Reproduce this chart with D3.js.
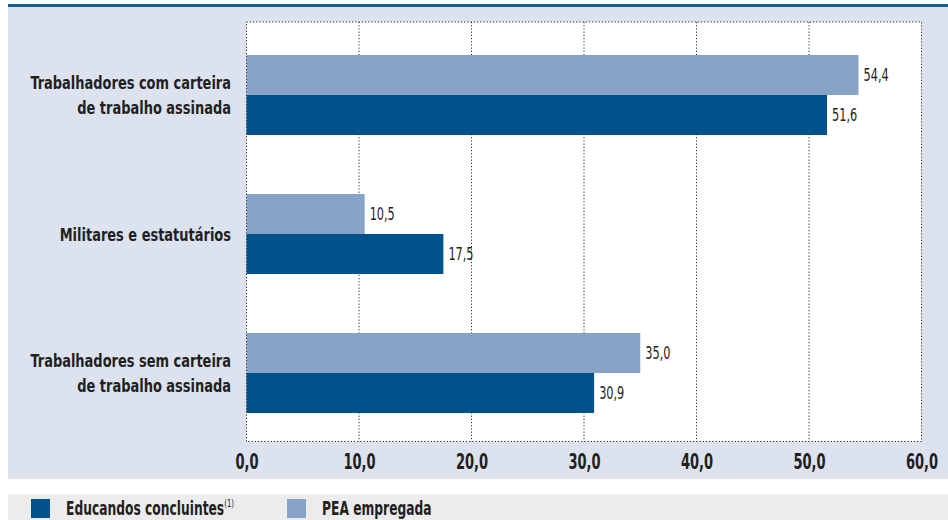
<!DOCTYPE html>
<html>
<head>
<meta charset="utf-8">
<script src="https://cdn.jsdelivr.net/npm/d3@7"></script>
<style>
  html, body { margin: 0; padding: 0; background: #ffffff; }
  svg { display: block; }
  text { font-family: "DejaVu Sans Condensed", "Liberation Sans Narrow", sans-serif; fill: #231f20; }
</style>
</head>
<body>
<svg id="chart" width="948" height="520"></svg>
<script>
// Categories (top to bottom) and their label lines
const categories = [
  "Trabalhadores com carteira de trabalho assinada",
  "Militares e estatutários",
  "Trabalhadores sem carteira de trabalho assinada"
];
const categoryLines = [
  ["Trabalhadores com carteira", "de trabalho assinada"],
  ["Militares e estatutários"],
  ["Trabalhadores sem carteira", "de trabalho assinada"]
];

// Series values (%)
const seriesNames = ["PEA empregada", "Educandos concluintes"];
const peaEmpregada = [54.4, 10.5, 35.0];
const educandosConcluintes = [51.6, 17.5, 30.9];

// Axis ticks
const xTicks = [0, 10, 20, 30, 40, 50, 60];

const colors = { "PEA empregada": "#87a3c6", "Educandos concluintes": "#00538a" };
const fmt = v => d3.format(".1f")(v).replace(".", ",");

// Horizontal squeeze factors to emulate a narrow display face
const squeeze = { category: 0.78, value: 0.74, tick: 0.66, legend: 0.7 };

const svg = d3.select("#chart");

// Panel background and top rule
svg.append("rect").attr("x", 8).attr("y", 5).attr("width", 940).attr("height", 474).attr("fill", "#dce3ee");
svg.append("rect").attr("x", 8).attr("y", 4).attr("width", 940).attr("height", 3).attr("fill", "#1b5a8c");

// Legend band
svg.append("rect").attr("x", 8).attr("y", 494).attr("width", 940).attr("height", 26).attr("fill", "#ececec");

const plot = { left: 246.5, right: 921.5, top: 22, bottom: 441.5 };

const x = d3.scaleLinear().domain([0, 60]).range([plot.left, plot.right]);
const y = d3.scaleBand().domain(categories).range([25.5, 442.5]).paddingInner(0.4245).paddingOuter(0.2123);
const ySub = d3.scaleBand().domain(seriesNames).range([0, y.bandwidth()]);

// Plot area
svg.append("rect")
  .attr("x", plot.left).attr("y", plot.top)
  .attr("width", plot.right - plot.left).attr("height", plot.bottom - plot.top)
  .attr("fill", "#ffffff");

// Dotted vertical gridlines
svg.append("g").selectAll("line").data(xTicks.slice(1, -1)).join("line")
  .attr("x1", d => x(d)).attr("x2", d => x(d))
  .attr("y1", plot.top).attr("y2", plot.bottom)
  .attr("stroke", "#2a2a2a").attr("stroke-width", 1).attr("stroke-dasharray", "1.2,2");

// Bars
const rows = categories.map((c, i) => ({
  cat: c,
  values: [
    { series: "PEA empregada", value: peaEmpregada[i] },
    { series: "Educandos concluintes", value: educandosConcluintes[i] }
  ]
}));

const groups = svg.append("g").selectAll("g").data(rows).join("g")
  .attr("transform", d => `translate(0,${y(d.cat)})`);

groups.selectAll("rect").data(d => d.values).join("rect")
  .attr("x", x(0))
  .attr("y", d => ySub(d.series))
  .attr("width", d => x(d.value) - x(0))
  .attr("height", ySub.bandwidth())
  .attr("fill", d => colors[d.series]);

// Value labels at bar ends
groups.selectAll("g.val").data(d => d.values).join("g")
  .attr("class", "val")
  .attr("transform", d => `translate(${x(d.value) + 5},${ySub(d.series) + ySub.bandwidth() / 2}) scale(${squeeze.value},1)`)
  .append("text")
  .attr("dy", "0.36em")
  .attr("font-size", 17)
  .text(d => fmt(d.value));

// Dotted plot border
svg.append("rect")
  .attr("x", plot.left).attr("y", plot.top)
  .attr("width", plot.right - plot.left).attr("height", plot.bottom - plot.top)
  .attr("fill", "none").attr("stroke", "#2a2a2a").attr("stroke-width", 1).attr("stroke-dasharray", "1.2,2");

// X axis tick labels
const xAxis = d3.axisBottom(x).tickValues(xTicks).tickSize(0).tickPadding(12).tickFormat(fmt);
const gx = svg.append("g").attr("transform", `translate(0,${plot.bottom})`).call(xAxis);
gx.select(".domain").remove();
gx.selectAll("text")
  .attr("font-size", 22).attr("font-weight", "bold")
  .attr("transform", `scale(${squeeze.tick},1)`)
  .style("font-family", "'DejaVu Sans Condensed', sans-serif")
  .attr("fill", "#231f20");

// Category labels, right-aligned beside the plot
const catG = svg.append("g").selectAll("g").data(categories).join("g")
  .attr("transform", d => `translate(231,${y(d) + y.bandwidth() / 2}) scale(${squeeze.category},1)`);
catG.each(function(d, i) {
  const lines = categoryLines[i];
  const n = lines.length;
  d3.select(this).append("text")
    .attr("text-anchor", "end")
    .attr("font-size", 18.5).attr("font-weight", "bold")
    .selectAll("tspan").data(lines).join("tspan")
    .attr("x", 0)
    .attr("dy", (l, j) => j === 0 ? `${0.36 - (n - 1) * 0.66}em` : "1.34em")
    .text(l => l);
});

// Legend
const legendItems = [
  { name: "Educandos concluintes", sup: "(1)", x: 31 },
  { name: "PEA empregada", sup: "", x: 287 }
];
const lg = svg.append("g").selectAll("g").data(legendItems).join("g")
  .attr("transform", d => `translate(${d.x},499)`);
lg.append("rect").attr("width", 19).attr("height", 19).attr("fill", d => colors[d.name]);
const lt = lg.append("g").attr("transform", `translate(35,15.5) scale(${squeeze.legend},1)`)
  .append("text")
  .attr("font-size", 19.5).attr("font-weight", "bold");
lt.append("tspan").text(d => d.name);
lt.append("tspan").attr("font-size", 11).attr("font-weight", "normal").attr("dy", -8).text(d => d.sup);
</script>
</body>
</html>
